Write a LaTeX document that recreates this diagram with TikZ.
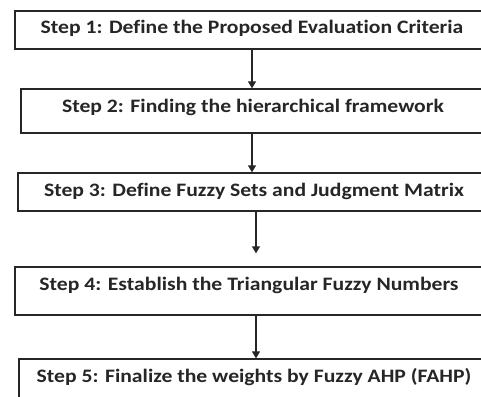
\documentclass[tikz,border=0pt]{standalone}
\usepackage{fontspec}
\setmainfont{Carlito}[Ligatures=NoCommon]
\newfontfamily\stepfont{Carlito}[Ligatures=NoCommon, FakeStretch=1.14]
\usetikzlibrary{arrows.meta}
\tikzset{
  stepbox/.style={draw=black!85, line width=1.3pt, rectangle, inner sep=0pt},
  steptext/.style={font=\stepfont\bfseries\fontsize{19}{23}\selectfont, text=black!85, inner sep=0pt, anchor=center},
  flow/.style={draw=black!85, line width=1.3pt, -{Triangle[width=8pt,length=7pt]}}
}
\begin{document}
\begin{tikzpicture}[x=1pt, y=-1pt]
  \useasboundingbox (0,0) rectangle (481,396);
  \fill[white] (0,0) rectangle (481,396);
  \clip (0,0) rectangle (481,396);
  % process boxes (they run past the right edge)
  \node[stepbox, minimum width=474pt, minimum height=38pt] (s1) at (252,30) {};
  \node[stepbox, minimum width=462pt, minimum height=44pt] (s2) at (252,111) {};
  \node[stepbox, minimum width=476pt, minimum height=38pt] (s3) at (256,192) {};
  \node[stepbox, minimum width=482pt, minimum height=48pt] (s4) at (256,291) {};
  \node[stepbox, minimum width=474pt, minimum height=45pt] (s5) at (256,381.5) {};
  % step labels
  \node[steptext] (t1) at (252,28) {Step 1: Define the Proposed Evaluation Criteria};
  \node[steptext] (t2) at (253,107) {Step 2: Finding the hierarchical framework};
  \node[steptext] (t3) at (254,191) {Step 3: Define Fuzzy Sets and Judgment Matrix};
  \node[steptext] (t4) at (249,285) {Step 4: Establish the Triangular Fuzzy Numbers};
  \node[steptext] (t5) at (254,377) {Step 5: Finalize the weights by Fuzzy AHP (FAHP)};
  % connectors
  \draw[flow] (s1.south) -- (s2.north);
  \draw[flow] (s2.south) -- (s2.south |- s3.north);
  \draw[flow, shorten >=13pt] (s3.south) -- (s4.north);
  \draw[flow] (s4.south) -- (s5.north);
\end{tikzpicture}
\end{document}
